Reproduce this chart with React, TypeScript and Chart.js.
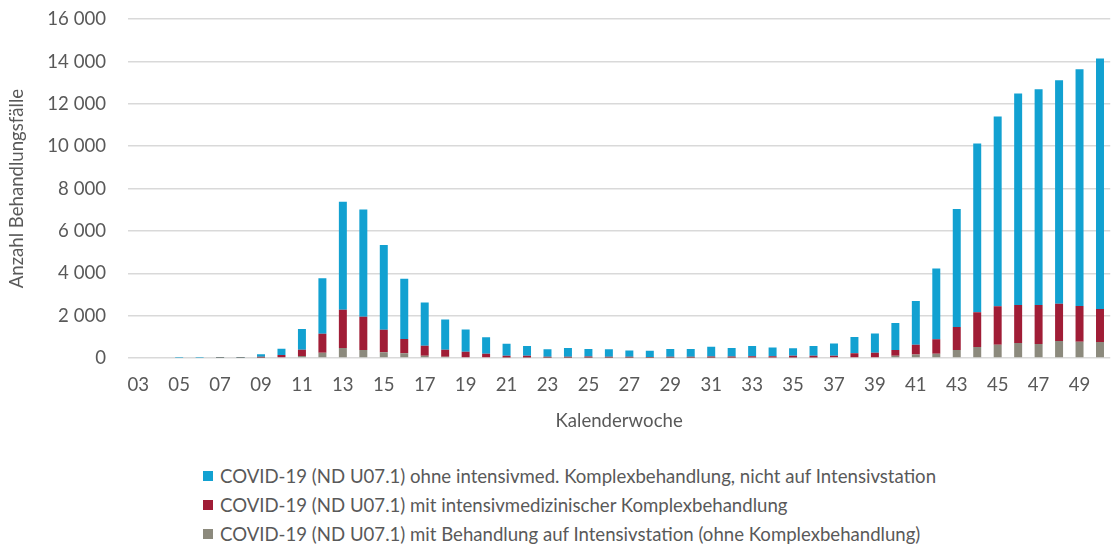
import React, { useEffect, useRef } from "react";
import { Chart, registerables } from "chart.js";

Chart.register(...registerables);

const weeks = [
  "03", "04", "05", "06", "07", "08", "09", "10", "11", "12", "13", "14", "15", "16", "17", "18",
  "19", "20", "21", "22", "23", "24", "25", "26", "27", "28", "29", "30", "31", "32", "33", "34",
  "35", "36", "37", "38", "39", "40", "41", "42", "43", "44", "45", "46", "47", "48", "49", "50",
];

const icuNoComplex = [
  0, 0, 0, 0, 5, 5, 10, 30, 95, 250, 470, 380, 270, 220, 110, 60,
  40, 30, 20, 20, 15, 15, 15, 15, 10, 10, 10, 15, 15, 15, 20, 20,
  20, 25, 30, 40, 40, 110, 160, 200, 380, 520, 630, 710, 660, 800, 770, 755,
];

const icuComplex = [
  0, 0, 0, 0, 5, 5, 50, 110, 295, 900, 1810, 1570, 1065, 680, 470, 330,
  260, 170, 90, 90, 45, 45, 55, 45, 50, 40, 50, 45, 55, 55, 60, 60,
  90, 85, 80, 180, 210, 270, 470, 680, 1080, 1635, 1810, 1790, 1840, 1760, 1680, 1555,
];

const noIcu = [
  0, 0, 10, 15, 40, 40, 115, 300, 980, 2620, 5095, 5060, 3995, 2840, 2045, 1425,
  1050, 775, 565, 455, 350, 410, 355, 350, 300, 295, 365, 365, 465, 400, 485, 420,
  350, 455, 580, 770, 910, 1270, 2060, 3350, 5570, 7975, 8960, 9990, 10190, 10550, 11180, 11830,
];

const yTicks = [0, 2000, 4000, 6000, 8000, 10000, 12000, 14000, 16000];

const labelNoIcu = "COVID-19 (ND U07.1) ohne intensivmed. Komplexbehandlung, nicht auf Intensivstation";
const labelComplex = "COVID-19 (ND U07.1) mit intensivmedizinischer Komplexbehandlung";
const labelIcu = "COVID-19 (ND U07.1) mit Behandlung auf Intensivstation (ohne Komplexbehandlung)";

const BLUE = "#12A1D1";
const RED = "#A01D36";
const GRAY = "#8C8A7D";
const TEXT = "#595959";
const FONT = "Lato";
const FS = 18.6;

const fmt = (v: number) => String(v).replace(/\B(?=(\d{3})+(?!\d))/g, " ");

export default function App() {
  const ref = useRef<HTMLCanvasElement | null>(null);

  useEffect(() => {
    document.body.style.margin = "0";
    if (!ref.current) return;
    const chart = new Chart(ref.current, {
      type: "bar",
      data: {
        labels: weeks,
        datasets: [
          { label: labelIcu, data: icuNoComplex, backgroundColor: GRAY, stack: "s" },
          { label: labelComplex, data: icuComplex, backgroundColor: RED, stack: "s" },
          { label: labelNoIcu, data: noIcu, backgroundColor: BLUE, stack: "s" },
        ],
      },
      options: {
        responsive: false,
        animation: false,
        layout: { padding: { top: 10, right: 0, left: 0, bottom: 0 } },
        datasets: { bar: { barPercentage: 0.39, categoryPercentage: 1 } },
        plugins: { legend: { display: false }, tooltip: { enabled: false } },
        scales: {
          x: {
            stacked: true,
            grid: { display: false, drawTicks: false },
            border: { display: false },
            ticks: {
              autoSkip: false,
              maxRotation: 0,
              padding: 16,
              color: TEXT,
              font: { family: FONT, size: FS },
              callback: (_v: any, i: number) => (i % 2 === 0 ? weeks[i] : ""),
            },
            title: {
              display: true,
              text: "Kalenderwoche",
              color: TEXT,
              font: { family: FONT, size: FS },
              padding: { top: 6, bottom: 8 },
            },
            afterFit: (s: any) => {
              s.height = 82;
            },
          },
          y: {
            stacked: true,
            min: 0,
            max: 16000,
            afterBuildTicks: (s: any) => {
              s.ticks = yTicks.map((v) => ({ value: v }));
            },
            grid: { color: "#D9D9D9", lineWidth: 1.5, drawTicks: false },
            border: { display: false },
            ticks: {
              padding: 22,
              color: TEXT,
              font: { family: FONT, size: FS },
              callback: (v: any) => fmt(Number(v)),
            },
            title: {
              display: true,
              text: "Anzahl Behandlungsfälle",
              color: TEXT,
              font: { family: FONT, size: FS },
              padding: { top: 6, bottom: 6 },
            },
            afterFit: (s: any) => {
              s.width = 128;
            },
          },
        },
      },
    });
    return () => chart.destroy();
  }, []);

  const items = [
    { c: BLUE, t: labelNoIcu },
    { c: RED, t: labelComplex },
    { c: GRAY, t: labelIcu },
  ];

  return (
    <div style={{ position: "relative", width: 1116, height: 547, overflow: "hidden", fontFamily: FONT }}>
      <canvas ref={ref} width={1116} height={454} style={{ display: "block", marginTop: -14 }} />
      <div style={{ position: "absolute", left: 203, top: 461 }}>
        {items.map((it) => (
          <div
            key={it.t}
            style={{ display: "flex", alignItems: "center", height: 29, fontSize: FS, color: TEXT, whiteSpace: "nowrap" }}
          >
            <span style={{ display: "inline-block", width: 10, height: 10, background: it.c, marginRight: 7 }} />
            <span>{it.t}</span>
          </div>
        ))}
      </div>
    </div>
  );
}
